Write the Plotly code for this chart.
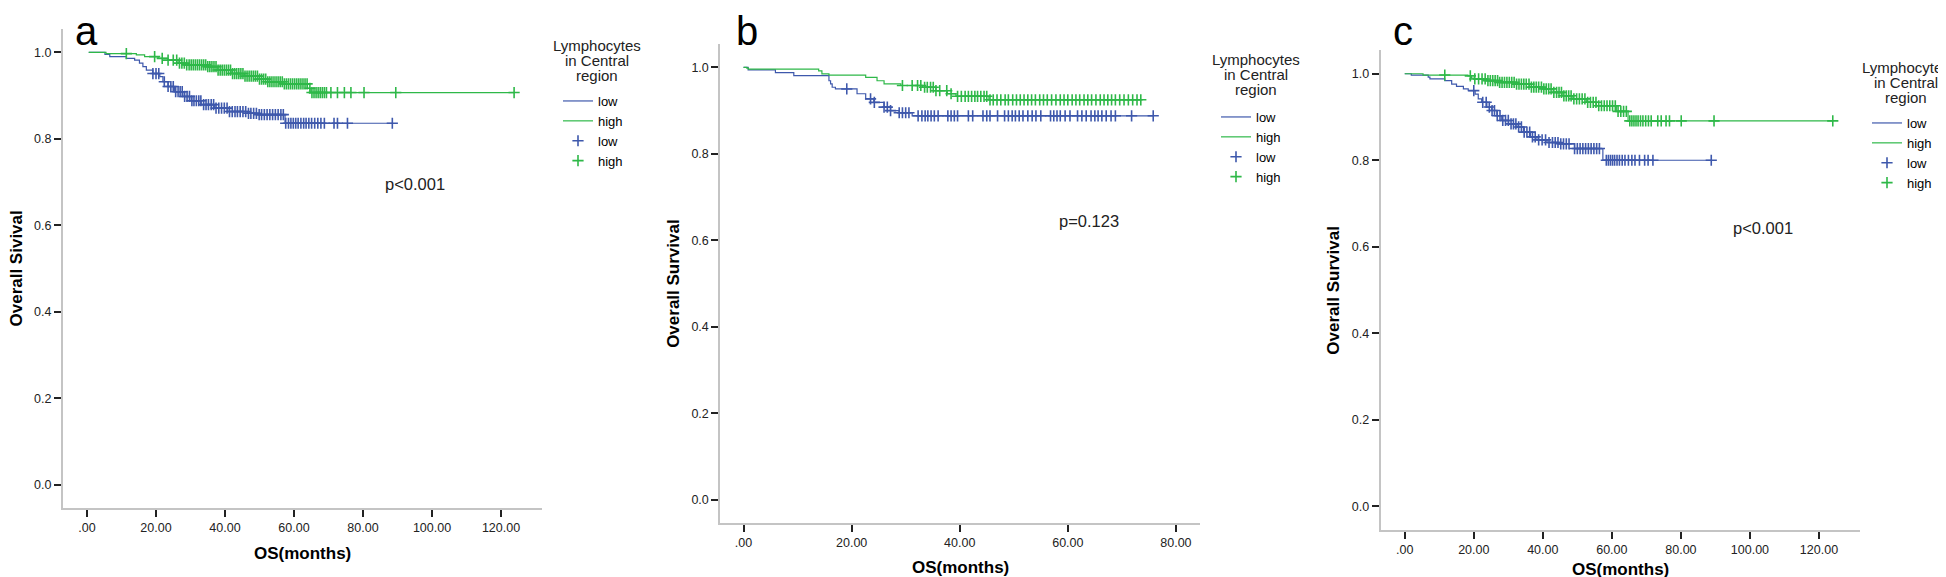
import numpy as np
import plotly.graph_objects as go

# ---- data ----
# panel a (Overall Sivival)
a_low_t = [0.5, 5.2, 6.6, 11.4, 13.8, 15.2, 16.2, 17.2, 19.1, 21.1, 22.0, 23.5, 25.4, 27.8,
           30.2, 33.1, 37.0, 40.8, 46.6, 49.5, 57.4]
a_low_s = [1.0, 0.995, 0.990, 0.986, 0.982, 0.975, 0.967, 0.959, 0.951, 0.944, 0.932, 0.921,
           0.909, 0.898, 0.888, 0.879, 0.871, 0.863, 0.859, 0.856, 0.836]
a_low_cens = [19.1, 20.0, 20.8, 22.4, 23.5, 24.3, 25.0, 25.7, 26.4, 27.0, 27.6, 28.3, 29.0,
              29.7, 30.4, 31.0, 31.7, 32.4, 33.0, 33.8, 34.5, 35.2, 36.0, 36.7, 37.4, 38.2,
              39.0, 39.8, 40.6, 41.3, 42.1, 42.9, 43.6, 44.4, 45.2, 46.0, 46.8, 47.5, 48.3,
              49.1, 49.9, 50.6, 51.4, 52.2, 53.0, 53.8, 54.6, 55.4, 56.2, 56.9, 57.6, 58.4,
              59.1, 59.8, 60.5, 61.2, 62.0, 62.8, 63.5, 64.3, 65.1, 66.0, 66.9, 67.8, 68.8,
              71.6, 72.6, 75.5, 88.5]
a_high_t = [0.5, 5.5, 14.3, 16.7, 20.6, 23.5, 26.4, 28.3, 35.0, 37.9, 41.8, 45.6, 49.5, 52.4,
            57.2, 63.9, 64.9]
a_high_s = [1.0, 0.997, 0.994, 0.990, 0.986, 0.982, 0.975, 0.971, 0.967, 0.959, 0.951, 0.945,
            0.938, 0.932, 0.927, 0.917, 0.907]
a_high_cens = [11.4, 19.6, 21.8, 23.5, 25.0, 26.0, 26.8, 27.5, 28.2, 28.9, 29.6, 30.2, 30.8,
               31.4, 32.0, 32.6, 33.2, 33.8, 34.4, 35.0, 35.6, 36.2, 36.8, 37.4, 38.0, 38.6,
               39.2, 39.8, 40.4, 41.0, 41.6, 42.2, 42.8, 43.4, 44.0, 44.6, 45.2, 45.8, 46.4,
               47.0, 47.6, 48.2, 48.8, 49.4, 50.0, 50.6, 51.2, 51.8, 52.4, 53.0, 53.6, 54.2,
               54.8, 55.4, 56.0, 56.6, 57.2, 57.8, 58.4, 59.0, 59.6, 60.2, 60.8, 61.4, 62.0,
               62.6, 63.2, 63.8, 64.6, 65.2, 65.8, 66.4, 67.0, 67.6, 68.2, 68.8, 69.4, 70.7,
               72.6, 74.6, 76.5, 80.3, 89.5, 123.8]

# panel b (Overall Survival, p=0.123)
b_low_t = [0, 0.85, 5.9, 9.3, 15.8, 16.1, 16.4, 17.0, 21.0, 22.6, 24.1, 26.0, 27.2, 28.8, 31.2]
b_low_s = [1.0, 0.994, 0.988, 0.981, 0.969, 0.962, 0.954, 0.950, 0.939, 0.927, 0.919, 0.908,
           0.900, 0.895, 0.888]
b_low_cens = [19.1, 23.5, 24.2, 26.0, 26.6, 27.2, 28.8, 29.4, 30.0, 30.6, 32.3, 33.0, 33.6,
              34.1, 34.7, 35.3, 36.0, 37.8, 38.4, 39.0, 39.6, 41.6, 42.4, 44.3, 45.0, 45.6,
              47.0, 48.3, 49.0, 49.7, 50.3, 51.0, 51.7, 52.6, 53.4, 54.1, 55.0, 56.8, 57.4,
              58.0, 58.6, 59.5, 60.4, 61.8, 62.6, 63.4, 64.3, 65.0, 65.6, 66.3, 67.1, 68.0,
              68.8, 71.8, 75.8]
b_high_t = [0, 0.6, 0.9, 13.9, 14.5, 15.8, 22.6, 24.7, 26.0, 29.1, 33.1, 35.6, 37.7, 39.3, 45.4]
b_high_s = [1.0, 0.998, 0.996, 0.992, 0.985, 0.982, 0.977, 0.969, 0.962, 0.958, 0.954, 0.946,
            0.939, 0.933, 0.925]
b_high_cens = [29.4, 31.2, 32.2, 32.8, 33.5, 34.0, 34.6, 35.1, 35.6, 36.3, 37.6, 38.4, 39.6,
               40.3, 41.0, 41.6, 42.2, 42.8, 43.3, 43.9, 44.5, 45.0, 45.6, 46.2, 46.9, 47.6,
               48.4, 49.0, 49.8, 50.5, 51.2, 51.9, 52.6, 53.3, 54.0, 54.8, 55.5, 56.2, 57.0,
               57.8, 58.6, 59.3, 60.0, 60.8, 61.5, 62.2, 63.0, 63.7, 64.4, 65.2, 66.0, 66.7,
               67.4, 68.1, 68.8, 69.6, 70.4, 71.2, 72.0, 72.8, 73.5]

# panel c (Overall Survival, p<0.001)
c_low_t = [0, 1.9, 6.8, 7.3, 11.6, 13.6, 15.0, 17.0, 18.4, 20.4, 21.3, 22.3, 23.8, 25.2, 26.7,
           28.1, 30.1, 32.5, 34.4, 36.4, 38.3, 41.2, 44.5, 49.2, 57.4]
c_low_s = [1.0, 0.997, 0.992, 0.988, 0.984, 0.976, 0.971, 0.965, 0.961, 0.953, 0.942, 0.934,
           0.923, 0.915, 0.903, 0.892, 0.884, 0.877, 0.865, 0.854, 0.847, 0.841, 0.838, 0.827,
           0.800]
c_low_cens = [20.0, 22.6, 23.6, 24.5, 25.3, 26.0, 26.8, 27.6, 28.4, 29.2, 30.0, 30.8, 31.5,
              32.2, 33.0, 33.8, 34.6, 35.4, 36.2, 37.0, 37.8, 38.8, 39.8, 40.8, 41.8, 42.8,
              43.6, 44.4, 45.2, 46.0, 46.8, 47.6, 49.2, 50.0, 50.8, 51.6, 52.4, 53.2, 54.0,
              54.8, 55.6, 56.4, 58.4, 59.0, 59.6, 60.2, 60.8, 61.5, 62.2, 63.0, 63.8, 64.8,
              65.8, 66.7, 68.0, 69.5, 70.5, 71.9, 88.8]
c_high_t = [0, 5.3, 18.3, 19.3, 20.2, 23.6, 27.5, 32.3, 36.2, 40.1, 43.0, 45.8, 48.7, 52.6,
            55.5, 61.3, 64.7]
c_high_s = [1.0, 0.997, 0.995, 0.990, 0.988, 0.984, 0.980, 0.976, 0.969, 0.965, 0.957, 0.949,
            0.942, 0.934, 0.926, 0.913, 0.891]
c_high_cens = [11.6, 19.0, 20.3, 21.4, 22.4, 23.3, 24.1, 24.8, 25.5, 26.2, 26.9, 27.5, 28.2,
               28.9, 29.6, 30.3, 31.0, 31.7, 32.4, 33.1, 33.8, 34.5, 35.2, 36.0, 36.7, 37.4,
               38.1, 38.8, 39.6, 40.3, 41.0, 41.7, 42.4, 43.2, 44.0, 44.7, 45.4, 46.1, 46.8,
               47.5, 48.2, 49.0, 49.8, 50.6, 51.4, 52.2, 53.0, 53.8, 54.6, 55.4, 56.2, 57.0,
               57.8, 58.6, 59.4, 60.2, 61.0, 61.8, 62.6, 63.4, 64.2, 65.2, 65.8, 66.4, 67.0,
               67.6, 68.3, 69.0, 69.8, 70.6, 71.4, 73.3, 74.3, 75.7, 76.7, 80.1, 89.6, 124.0]

p_texts = ["p<0.001", "p=0.123", "p<0.001"]
y_titles = ["Overall Sivival", "Overall Survival", "Overall Survival"]
panel_letters = ["a", "b", "c"]
legend_title_lines = ["Lymphocytes", "in Central", "region"]
x_ticks_long = [0, 20, 40, 60, 80, 100, 120]
x_ticks_short = [0, 20, 40, 60, 80]
x_labels_long = [".00", "20.00", "40.00", "60.00", "80.00", "100.00", "120.00"]
x_labels_short = [".00", "20.00", "40.00", "60.00", "80.00"]
y_ticks = [0.0, 0.2, 0.4, 0.6, 0.8, 1.0]

BLUE = "#3E58AC"
GREEN = "#2EB848"
FONT = "Liberation Sans, Arial, sans-serif"
W, H = 1946, 577

# pixel boxes of the three plot areas (left, right, top, bottom)
boxes = [(55, 533.7, 21.0, 500.0), (712.3, 1191.7, 36.0, 515.1), (1372.7, 1851.7, 42.4, 521.5)]
x_ranges = [[-6.96, 131.8], [-4.3, 84.4], [-6.96, 131.8]]
y_range = [-0.054, 1.054]
p_pos = [(407, 176), (1081, 213), (1755, 220)]
letter_x = [78, 739, 1395]
xtitle_y = [545, 559, 561]
legend_left = [550, 1208, 1859]
legend_title_pos = [(589, 52.7), (1248, 66.7), (1898, 74.3)]
legend_first = [88, 104, 110]


def step_value(times, surv, t):
    i = np.searchsorted(times, t, side="right") - 1
    return surv[max(i, 0)]


panels = [
    (a_low_t, a_low_s, a_low_cens, a_high_t, a_high_s, a_high_cens),
    (b_low_t, b_low_s, b_low_cens, b_high_t, b_high_s, b_high_cens),
    (c_low_t, c_low_s, c_low_cens, c_high_t, c_high_s, c_high_cens),
]

fig = go.Figure()
layout = dict(width=W, height=H, margin=dict(l=0, r=0, t=0, b=0, autoexpand=False),
              paper_bgcolor="white", plot_bgcolor="white",
              font=dict(family=FONT, color="black"), annotations=[])

for k, (lt, ls, lc, ht, hs, hc) in enumerate(panels):
    n = "" if k == 0 else str(k + 1)
    xa, ya, lg = "x" + n, "y" + n, "legend" + n
    curves = [("low", lt, ls, lc, BLUE), ("high", ht, hs, hc, GREEN)]
    # step lines
    for name, t, s, c, col in curves:
        xs = list(t) + [max(c)]
        ys = list(s) + [s[-1]]
        fig.add_trace(go.Scatter(x=xs, y=ys, mode="lines", line=dict(color=col, width=1.2, shape="hv"),
                                 name=name, xaxis=xa, yaxis=ya, legend=lg))
    # censored marks
    for name, t, s, c, col in curves:
        cy = [step_value(np.array(t), s, v) for v in c]
        fig.add_trace(go.Scatter(x=c, y=cy, mode="markers",
                                 marker=dict(symbol="cross-thin", size=8, line=dict(color=col, width=1.6)),
                                 name=name, xaxis=xa, yaxis=ya, legend=lg))

    l, r, tp, bt = boxes[k]
    if k == 1:
        tv, tt = x_ticks_short, x_labels_short
    else:
        tv, tt = x_ticks_long, x_labels_long
    axis_common = dict(showgrid=False, zeroline=False, showline=True, linecolor="#c4c4c4", linewidth=2,
                       ticks="outside", ticklen=7, tickwidth=1.5, tickcolor="#222222",
                       tickfont=dict(family=FONT, size=12.5, color="#222222"))
    layout["xaxis" + n] = dict(domain=[l / W, r / W], range=x_ranges[k], anchor=ya,
                               tickvals=tv, ticktext=tt, **axis_common)
    layout["yaxis" + n] = dict(domain=[1 - bt / H, 1 - tp / H], range=y_range, anchor=xa,
                               tickvals=y_ticks, tickformat=".1f", **axis_common)
    layout[lg] = dict(x=legend_left[k] / W, xanchor="left", y=1 - (legend_first[k] - 10) / H,
                      yanchor="top", bgcolor="rgba(0,0,0,0)", font=dict(family=FONT, size=13),
                      tracegroupgap=0, itemwidth=30)

    cx = (l + r) / 2
    tx, ty = legend_title_pos[k]
    px, py = p_pos[k]
    layout["annotations"] += [
        dict(text=panel_letters[k], x=letter_x[k] / W, y=1 - 23 / H, xref="paper", yref="paper",
             xanchor="center", yanchor="middle", showarrow=False,
             font=dict(family=FONT, size=40, color="black")),
        dict(text="<b>" + y_titles[k] + "</b>", x=(l - 47) / W, y=1 - (tp + bt) / 2 / H, textangle=-90,
             xref="paper", yref="paper", xanchor="center", yanchor="middle", showarrow=False,
             font=dict(family=FONT, size=17, color="black")),
        dict(text="<b>OS(months)</b>", x=cx / W, y=1 - xtitle_y[k] / H, xref="paper", yref="paper",
             xanchor="center", yanchor="middle", showarrow=False,
             font=dict(family=FONT, size=17, color="black")),
        dict(text=p_texts[k], x=px / W, y=1 - py / H, xref="paper", yref="paper",
             xanchor="center", yanchor="middle", showarrow=False,
             font=dict(family=FONT, size=16.5, color="#222222")),
    ]
    # legend title, one annotation per line so the lines sit close together
    for j, line in enumerate(legend_title_lines):
        layout["annotations"].append(
            dict(text=line, x=tx / W, y=1 - (ty + (j - 1) * 15.2) / H, xref="paper", yref="paper",
                 xanchor="center", yanchor="middle", showarrow=False,
                 font=dict(family=FONT, size=15, color="#222222")))

fig.update_layout(**layout)
fig.write_html("out.html")
